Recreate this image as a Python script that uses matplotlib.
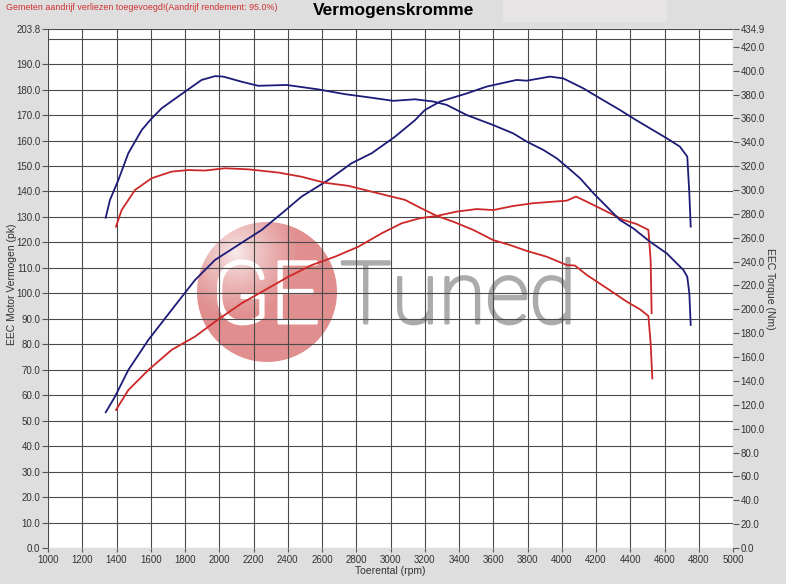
import numpy as np
import matplotlib
matplotlib.use("Agg")
import matplotlib.pyplot as plt
import matplotlib.patheffects as pe
from matplotlib.patches import Ellipse, Rectangle

# ---------------- data ----------------
rpm_blue_torque = [1337, 1362, 1411, 1469, 1547, 1596, 1664, 1800, 1897, 1975, 2024, 2131, 2228,
                   2394, 2578, 2734, 2890, 3016, 3143, 3250, 3328, 3445, 3600, 3717, 3795, 3893,
                   3971, 4029, 4107, 4185, 4263, 4340, 4418, 4515, 4613, 4710, 4733, 4745, 4753]
blue_torque = [276.8, 291.7, 308.4, 330.8, 350.2, 358.5, 368.5, 382.4, 392.2, 395.4, 395.0, 390.7, 387.3,
               388.0, 384.3, 380.3, 377.3, 374.7, 376.0, 374.1, 371.3, 362.8, 354.4, 347.4, 340.6, 333.5,
               326.5, 319.5, 309.8, 297.3, 286.0, 274.8, 267.8, 256.7, 246.9, 233.0, 227.3, 213.4, 186.9]

rpm_blue_power = [1337, 1391, 1469, 1586, 1722, 1858, 1975, 2111, 2248, 2365, 2481, 2637, 2773,
                  2890, 3026, 3143, 3201, 3289, 3445, 3562, 3737, 3795, 3931, 4009, 4126, 4223,
                  4340, 4418, 4515, 4613, 4690, 4733, 4745, 4753]
blue_power = [53.3, 59.4, 69.9, 81.7, 93.5, 105.2, 113.1, 119.0, 124.9, 131.4, 138.0, 144.5, 151.1,
              155.0, 161.5, 168.0, 172.0, 175.3, 178.5, 181.2, 183.8, 183.5, 185.1, 184.4, 180.5, 176.6,
              172.0, 168.7, 164.8, 160.9, 157.6, 153.7, 139.3, 126.2]

rpm_red_torque = [1397, 1430, 1508, 1606, 1722, 1819, 1917, 2034, 2170, 2345, 2481, 2618, 2754,
                  2968, 3085, 3172, 3270, 3367, 3484, 3600, 3697, 3795, 3912, 4029, 4077, 4146,
                  4263, 4380, 4457, 4506, 4519, 4529]
red_torque = [269.3, 283.2, 300.0, 309.9, 315.4, 316.7, 316.3, 318.2, 317.3, 314.6, 311.1, 306.0, 303.5,
              295.8, 291.7, 285.2, 278.3, 273.4, 266.5, 258.0, 253.9, 249.0, 244.1, 237.1, 236.7, 228.8,
              217.7, 206.4, 200.0, 194.4, 171.6, 142.1]

rpm_red_power = [1397, 1469, 1586, 1722, 1858, 1995, 2131, 2267, 2403, 2540, 2676, 2812, 2949,
                 3065, 3172, 3270, 3387, 3504, 3600, 3717, 3834, 3951, 4029, 4083, 4146, 4263,
                 4360, 4438, 4506, 4519, 4525]
red_power = [54.2, 62.0, 69.9, 77.8, 83.0, 89.8, 96.1, 101.3, 106.5, 111.1, 114.4, 118.3, 123.6,
             127.5, 129.5, 130.4, 132.1, 133.1, 132.7, 134.3, 135.4, 136.0, 136.4, 138.0, 136.0, 132.1,
             128.8, 127.2, 124.9, 113.1, 92.2]

x_ticks = list(range(1000, 5001, 200))
left_ticks = [v * 10.0 for v in range(0, 20)] + [203.8]
right_ticks = [v * 20.0 for v in range(0, 22)] + [434.9]

title = "Vermogenskromme"
note = "Gemeten aandrijf verliezen toegevoegd!(Aandrijf rendement: 95.0%)"
xlabel = "Toerental (rpm)"
ylabel_left = "EEC Motor Vermogen (pk)"
ylabel_right = "EEC Torque (Nm)"

# ---------------- style ----------------
BG = "#dedede"
BLUE = "#1c1c78"
RED = "#cc2828"
GRID = "#4a4a4a"
TXT = "#333333"
plt.rcParams['font.family'] = ['Liberation Sans', 'DejaVu Sans']

fig = plt.figure(figsize=(7.86, 5.84), dpi=100, facecolor=BG)
ax = fig.add_axes([48 / 786, 36 / 584, 685 / 786, 519 / 584])
ax.set_facecolor("white")
ax2 = ax.twinx()

for s in list(ax.spines.values()) + list(ax2.spines.values()):
    s.set_visible(False)

ax.set_xticks(x_ticks)
ax.set_xticklabels([str(t) for t in x_ticks])
ax.set_yticks(left_ticks)
ax.set_yticklabels(["%.1f" % t for t in left_ticks])
ax.set_yticks([200.0], minor=True)
ax2.set_yticks(right_ticks)
ax2.set_yticklabels(["%.1f" % t for t in right_ticks])

ax.tick_params(axis='both', which='major', labelsize=7, labelcolor=TXT, color="#555555",
               length=4, width=0.8, direction='out', pad=1.5)
ax.tick_params(axis='y', which='minor', length=0)
ax.tick_params(axis='x', length=3, pad=2)
ax2.tick_params(axis='y', labelsize=7, labelcolor=TXT, color="#555555", length=4, width=0.8,
                direction='out', pad=1.5)

ax.set_axisbelow(True)
ax.grid(True, which='both', axis='y', color=GRID, lw=0.8)
ax.grid(True, which='major', axis='x', color=GRID, lw=0.8)

# watermark (behind grid)
cx, cy = (267 - 48) / 685, (548 - 292) / 519
w, h = 140 / 685, 140 / 519
yy, xx = np.mgrid[0:1:200j, 0:1:200j]
dist = np.sqrt((xx - 0.28) ** 2 + (yy - 0.22) ** 2)
base = np.array([0.88, 0.56, 0.56])
hi = np.array([0.98, 0.93, 0.93])
tt = np.clip(dist / 0.45, 0, 1)[..., None] ** 0.8
img = hi * (1 - tt) + base * tt
ext = [cx - w / 2, cx + w / 2, cy - h / 2, cy + h / 2]
im = ax.imshow(img, extent=ext, origin='upper', transform=ax.transAxes,
               aspect='auto', zorder=0.2, interpolation='bilinear')
circ = Ellipse((cx, cy), w, h, transform=ax.transAxes, facecolor='none', edgecolor='none')
ax.add_patch(circ)
im.set_clip_path(circ)
ax.set_xlim(1000, 5000)
ax.set_ylim(0, 203.8)
ax2.set_ylim(0, 434.9)
ax.text(cx - 0.002, (548 - 323) / 519, "GE", transform=ax.transAxes, ha='center', va='baseline',
        fontsize=62, color='white', family=['Roboto', 'DejaVu Sans'], fontweight='light', zorder=0.3,
        path_effects=[pe.withStroke(linewidth=2.2, foreground='white')])
ax.text((340 - 48) / 685, (548 - 323) / 519, "Tuned", transform=ax.transAxes, ha='left',
        va='baseline', fontsize=62, color='#ababab', family=['Roboto', 'DejaVu Sans'],
        fontweight='light', zorder=0.3,
        path_effects=[pe.withStroke(linewidth=2.2, foreground='#ababab')])

# curves
ax.plot(rpm_blue_power, blue_power, color=BLUE, lw=1.3, zorder=3)
ax.plot(rpm_red_power, red_power, color=RED, lw=1.3, zorder=3)
ax2.plot(rpm_blue_torque, blue_torque, color=BLUE, lw=1.3, zorder=3)
ax2.plot(rpm_red_torque, red_torque, color=RED, lw=1.3, zorder=3)

# labels
ax.set_xlabel(xlabel, fontsize=7.5, color=TXT)
ax.xaxis.set_label_coords((390 - 48) / 685, -(566 - 548) / 519)
ax.xaxis.label.set_va('top')
ax.set_ylabel(ylabel_left, fontsize=7.5, color=TXT)
ax.yaxis.set_label_coords(-(48 - 17) / 685, (548 - 284) / 519)
ax2.set_ylabel(ylabel_right, fontsize=7.5, color=TXT, rotation=270, va='center')
ax2.yaxis.set_label_coords(1 + (770 - 733) / 685, (548 - 289) / 519)

# header
fig.patches.append(Rectangle((503 / 786, 1 - 22 / 584), 164 / 786, 22 / 584,
                             transform=fig.transFigure, facecolor='#e7e4e6', edgecolor='none'))
fig.text(394 / 786, 1 - 11 / 584, title, ha='center', va='center', fontsize=12.5,
         fontweight='bold', color='black')
fig.text(6 / 786, 1 - 7 / 584, note, ha='left', va='center', fontsize=6.4, color='#d03030')

fig.savefig("out.png", dpi=100, facecolor=BG)
